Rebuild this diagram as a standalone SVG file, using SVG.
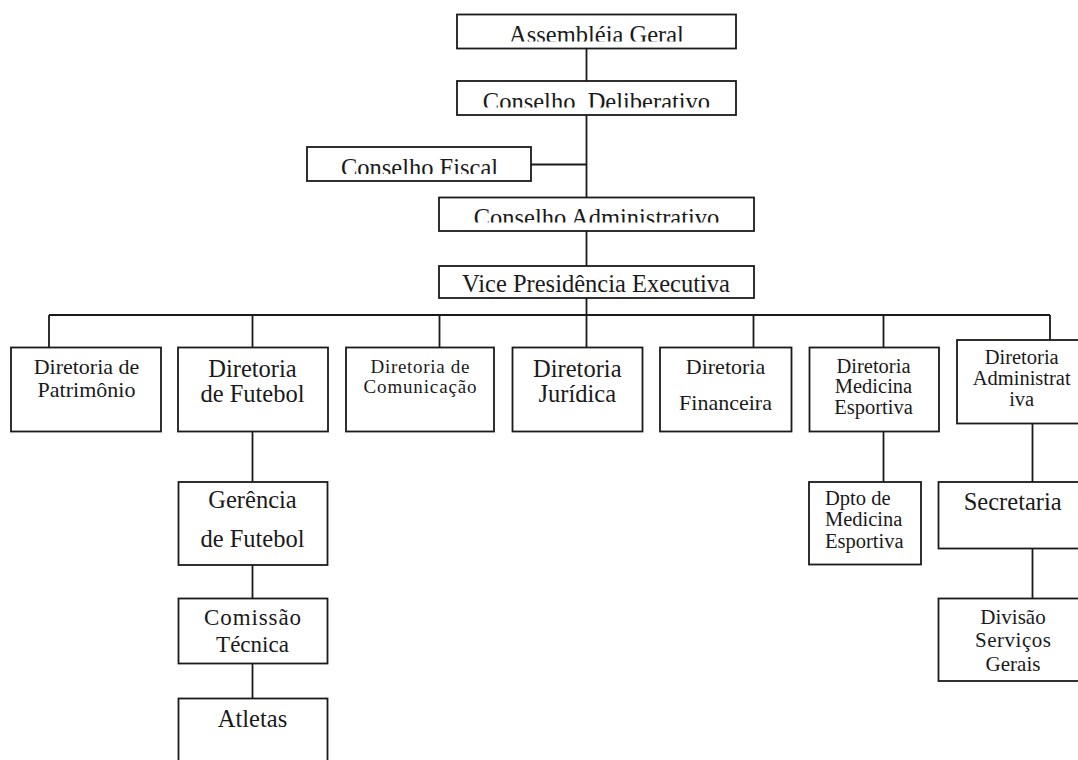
<svg xmlns="http://www.w3.org/2000/svg" width="1078" height="760" viewBox="0 0 1078 760">
<style>
.box{fill:#fff;stroke:#1a1a1a;stroke-width:1.8}
.ln{stroke:#1a1a1a;stroke-width:1.8;fill:none}
text{font-family:"Liberation Serif","Times New Roman",serif;fill:#1a1a1a;text-anchor:middle}
.t24{font-size:24.5px}
.t23{font-size:23px}
.t22{font-size:22px}
.t21{font-size:21px}
.t20{font-size:20.5px}
.l{text-anchor:start}
</style>
<defs>
<clipPath id="c1"><rect x="457" y="14" width="279" height="27.5"/></clipPath>
<clipPath id="c2"><rect x="457" y="81" width="279" height="26.5"/></clipPath>
<clipPath id="c3"><rect x="307" y="147" width="224" height="27"/></clipPath>
<clipPath id="c4"><rect x="439" y="197" width="315" height="25.5"/></clipPath>
</defs>
<rect width="1078" height="760" fill="#fff"/>
<g id="connectors">
<path class="ln" d="M586.5 48V81M586.5 115V197.5M586.5 231V266M586.5 298V347.5M531 164.5H586.5"/>
<path class="ln" d="M49 315H1050M49 315V347.5M252.5 315V347.5M439.5 315V347.5M753.5 315V347.5M883.5 315V347.5M1050 315V348"/>
<path class="ln" d="M252.5 431.5V482M252.5 565V598.5M252.5 663.5V698.5M883.5 431.5V482M1032.5 423.5V482M1032.5 548.5V598.5"/>
</g>
<g id="assembleia"><rect class="box" x="457" y="14.5" width="279" height="34"/><text class="t24" x="596.5" y="43" clip-path="url(#c1)">Assembléia Geral</text></g>
<g id="deliberativo"><rect class="box" x="457" y="81" width="279" height="34"/><text class="t24" x="596.5" y="109.5" clip-path="url(#c2)" xml:space="preserve">Conselho  Deliberativo</text></g>
<g id="fiscal"><rect class="box" x="307" y="147" width="224" height="34"/><text class="t24" x="419.5" y="175.5" clip-path="url(#c3)">Conselho Fiscal</text></g>
<g id="administrativo"><rect class="box" x="439" y="197.5" width="315" height="33.5"/><text class="t24" x="596.5" y="226" clip-path="url(#c4)">Conselho Administrativo</text></g>
<g id="vicepresidencia"><rect class="box" x="439" y="266" width="315" height="32"/><text class="t24" x="596" y="292.3">Vice Presidência Executiva</text></g>
<g id="patrimonio"><rect class="box" x="11" y="347.5" width="150" height="84"/><text class="t22" x="86.5" y="374">Diretoria de</text><text class="t22" x="86.5" y="396.7">Patrimônio</text></g>
<g id="futebol"><rect class="box" x="178" y="347.5" width="150" height="84"/><text class="t24" x="252.5" y="376.7">Diretoria</text><text class="t24" x="252.5" y="401.7">de Futebol</text></g>
<g id="comunicacao"><rect class="box" x="346" y="347.5" width="148" height="84"/><text x="420" y="372.7" font-size="19" textLength="99">Diretoria de</text><text x="420" y="393.3" font-size="19" textLength="113">Comunicação</text></g>
<g id="juridica"><rect class="box" x="512.5" y="347.5" width="130" height="84"/><text class="t24" x="577.3" y="376.7">Diretoria</text><text class="t24" x="577.3" y="401.7">Jurídica</text></g>
<g id="financeira"><rect class="box" x="660" y="347.5" width="131.5" height="84"/><text class="t22" x="725.5" y="374">Diretoria</text><text class="t22" x="725.5" y="410">Financeira</text></g>
<g id="medicina"><rect class="box" x="809.5" y="347.5" width="129.5" height="84"/><text class="t20" x="873.5" y="372.7">Diretoria</text><text class="t20" x="873.5" y="393.3">Medicina</text><text class="t20" x="873.5" y="414">Esportiva</text></g>
<g id="administrativa"><rect class="box" x="957" y="340" width="140" height="83.5"/><text class="t20" x="1021.7" y="364">Diretoria</text><text class="t20" x="1021.7" y="385">Administrat</text><text class="t20" x="1021.7" y="406">iva</text></g>
<g id="gerencia"><rect class="box" x="178.5" y="482" width="149" height="83"/><text class="t24" x="252.5" y="508.3">Gerência</text><text class="t24" x="252.5" y="546.7">de Futebol</text></g>
<g id="comissao"><rect class="box" x="178.5" y="598.5" width="149" height="65"/><text class="t23" x="252.5" y="625" textLength="97">Comissão</text><text class="t23" x="252.5" y="651.5">Técnica</text></g>
<g id="atletas"><rect class="box" x="178.5" y="698.5" width="149" height="80"/><text class="t24" x="252.5" y="727.3">Atletas</text></g>
<g id="dpto"><rect class="box" x="809" y="482" width="112" height="82.5"/><text class="t20 l" x="825" y="505">Dpto de</text><text class="t20 l" x="825" y="526">Medicina</text><text class="t20 l" x="825" y="548">Esportiva</text></g>
<g id="secretaria"><rect class="box" x="938.5" y="482" width="150" height="66.5"/><text class="t24" x="1012.7" y="510">Secretaria</text></g>
<g id="divisao"><rect class="box" x="938.5" y="598.5" width="150" height="82.5"/><text class="t21" x="1013" y="624">Divisão</text><text class="t21" x="1013" y="647" textLength="76">Serviços</text><text class="t21" x="1013" y="670.5">Gerais</text></g>
</svg>
